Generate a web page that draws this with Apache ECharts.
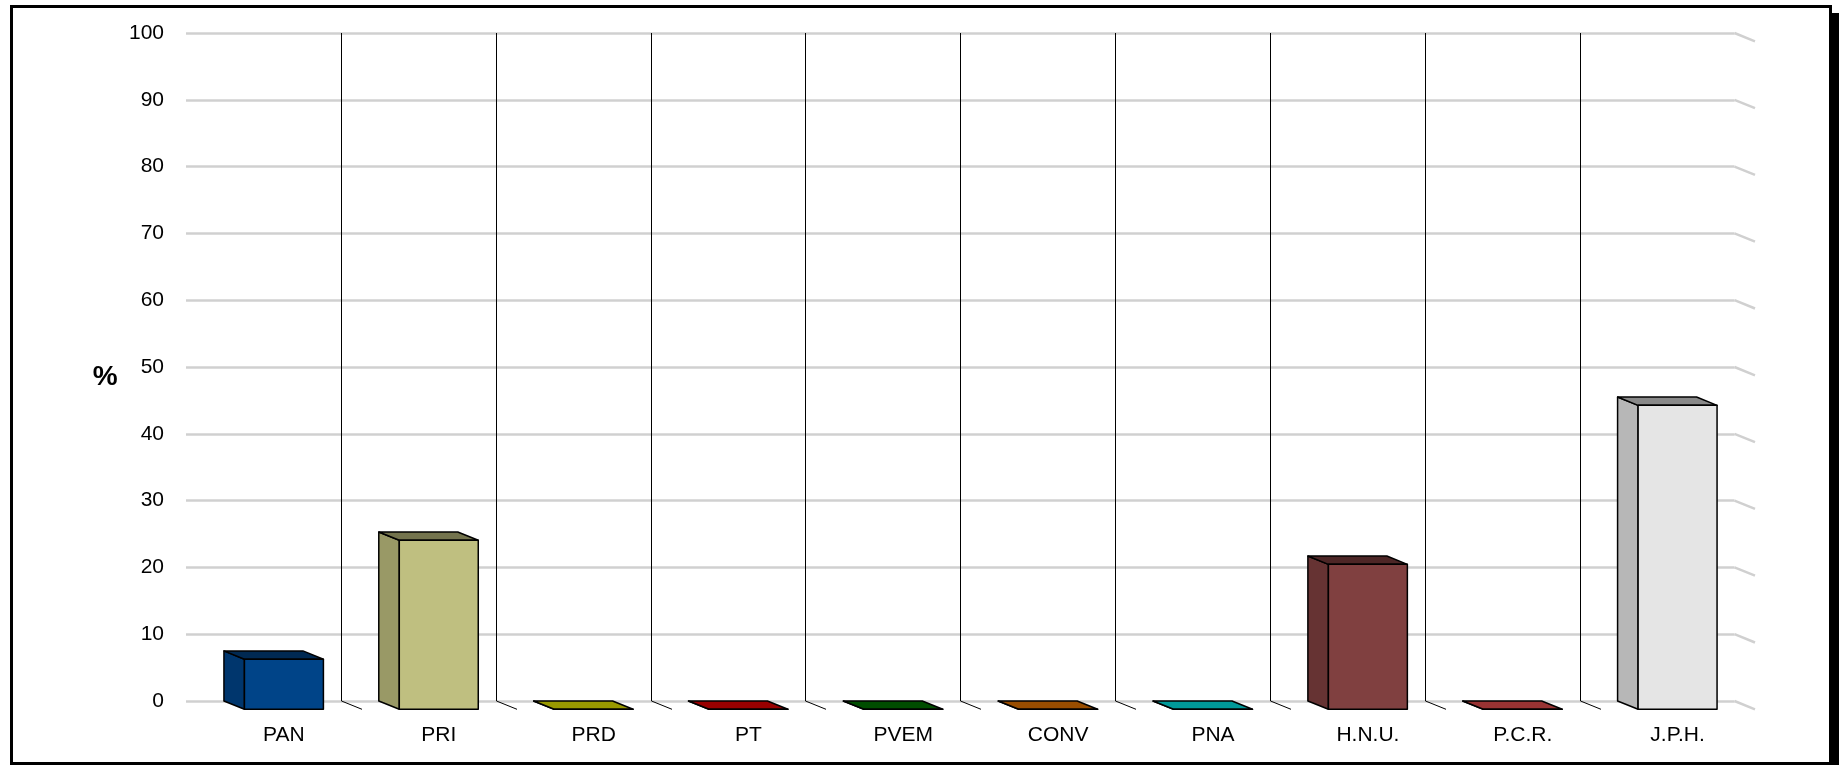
<!DOCTYPE html>
<html>
<head>
<meta charset="utf-8">
<script src="https://cdn.jsdelivr.net/npm/echarts@6/dist/echarts.min.js"></script>
<style>
html,body{margin:0;padding:0;background:#fff;}
#chart{width:1839px;height:765px;}
</style>
</head>
<body>
<div id="chart"></div>
<script>
// ---- data ----
var categories = ['PAN', 'PRI', 'PRD', 'PT', 'PVEM', 'CONV', 'PNA', 'H.N.U.', 'P.C.R.', 'J.P.H.'];
var values = [7.5, 25.3, 0, 0, 0, 0, 0, 21.7, 0, 45.5];
var barColors = ['#004488', '#BFBF80', '#FFFF00', '#FF0000', '#008000', '#FF8000', '#00FFFF', '#804040', '#FF5555', '#E5E5E5'];
var yTicks = [0, 10, 20, 30, 40, 50, 60, 70, 80, 90, 100];
var yName = '%';

// ---- style constants ----
var DX = 20.5, DY = 8.3, BAR_RATIO = 0.51;
var FONT = 'Liberation Sans, Arial, sans-serif';

function shade(hex, f) {
  var n = parseInt(hex.slice(1), 16);
  var r = Math.round(((n >> 16) & 255) * f), g = Math.round(((n >> 8) & 255) * f), b = Math.round((n & 255) * f);
  return 'rgb(' + r + ',' + g + ',' + b + ')';
}

var chart = echarts.init(document.getElementById('chart'), null, {renderer: 'canvas'});

var option = {
  animation: false,
  backgroundColor: '#fff',
  grid: {left: 186, right: 104.5, top: 33, bottom: 64, containLabel: false},
  xAxis: {
    type: 'category',
    data: categories,
    boundaryGap: true,
    axisLine: {show: false},
    axisTick: {show: false},
    splitLine: {show: false},
    axisLabel: {
      interval: 0, margin: 24, color: '#000', fontSize: 21, fontFamily: FONT,
      padding: [0, 0, 0, DX * 2]
    }
  },
  yAxis: {
    type: 'value',
    min: yTicks[0], max: yTicks[yTicks.length - 1], interval: 10,
    name: yName,
    nameLocation: 'middle',
    nameRotate: 0,
    nameGap: 80.7,
    nameTextStyle: {fontSize: 28, fontWeight: 'bold', color: '#000', fontFamily: FONT, align: 'center', verticalAlign: 'top', lineHeight: 20},
    axisLine: {show: false},
    axisTick: {show: false},
    axisLabel: {color: '#000', fontSize: 21, fontFamily: FONT, margin: 22},
    splitLine: {show: true, lineStyle: {color: '#D0D0D0', width: 2.5}}
  },
  graphic: [
    {type: 'rect', z: 100, shape: {x: 1832, y: 13, width: 7, height: 752}, style: {fill: '#000'}},
    {type: 'rect', z: 100, shape: {x: 11.5, y: 6.5, width: 1819, height: 757}, style: {fill: 'none', stroke: '#000', lineWidth: 3}}
  ],
  series: [
    {
      // right-hand side diagonals of the gridlines
      type: 'custom',
      silent: true,
      z: 1,
      data: yTicks.map(function (v) { return [categories.length - 1, v]; }),
      renderItem: function (params, api) {
        var p = api.coord([api.value(0), api.value(1)]);
        var band = api.size([1, 0])[0];
        var x = p[0] + band / 2;
        return {
          type: 'line',
          shape: {x1: x, y1: p[1], x2: x + DX, y2: p[1] + DY},
          style: {stroke: '#D0D0D0', lineWidth: 2.5}
        };
      }
    },
    {
      // back-wall category separators
      type: 'custom',
      silent: true,
      z: 2,
      data: categories.map(function (c, i) { return [i, yTicks[yTicks.length - 1]]; }).slice(1),
      renderItem: function (params, api) {
        var i = api.value(0);
        var band = api.size([1, 0])[0];
        var top = api.coord([i, api.value(1)]);
        var base = api.coord([i, 0]);
        var x = Math.round(base[0] - band / 2) + 0.5;
        return {
          type: 'polyline',
          shape: {points: [[x, top[1]], [x, base[1]], [x + DX, base[1] + DY]]},
          style: {stroke: '#000', lineWidth: 1, fill: null}
        };
      }
    },
    {
      // 3D bars
      type: 'custom',
      z: 3,
      data: values.map(function (v, i) { return [i, v]; }),
      renderItem: function (params, api) {
        var i = api.value(0), v = api.value(1);
        var band = api.size([1, 0])[0];
        var w = band * BAR_RATIO;
        var pt = api.coord([i, v]);
        var p0 = api.coord([i, 0]);
        var x0 = pt[0] - w / 2, x1 = pt[0] + w / 2;
        var yt = pt[1], yb = p0[1];
        var col = barColors[i];
        var st = {stroke: '#000', lineWidth: 1.5, lineJoin: 'round'};
        return {
          type: 'group',
          children: [
            {type: 'polygon', shape: {points: [[x0, yt], [x0 + DX, yt + DY], [x0 + DX, yb + DY], [x0, yb]]},
              style: Object.assign({fill: shade(col, 0.8)}, st)},
            {type: 'polygon', shape: {points: [[x0, yt], [x1, yt], [x1 + DX, yt + DY], [x0 + DX, yt + DY]]},
              style: Object.assign({fill: shade(col, 0.6)}, st)},
            {type: 'polygon', shape: {points: [[x0 + DX, yt + DY], [x1 + DX, yt + DY], [x1 + DX, yb + DY], [x0 + DX, yb + DY]]},
              style: Object.assign({fill: col}, st)}
          ]
        };
      }
    }
  ]
};
chart.setOption(option);
</script>
</body>
</html>
